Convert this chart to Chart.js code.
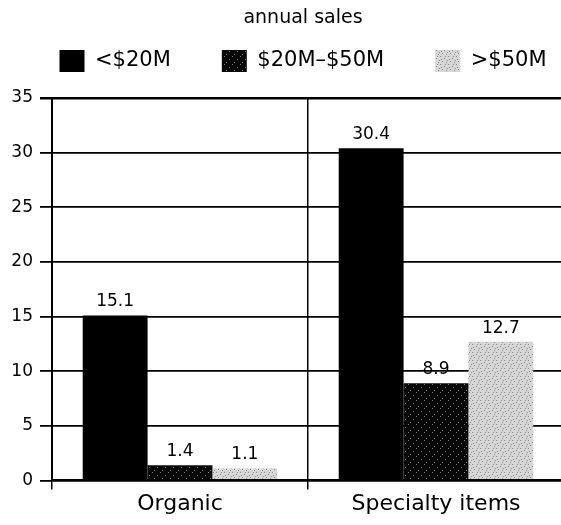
<!DOCTYPE html>
<html>
<head>
<meta charset="utf-8">
<script src="https://cdn.jsdelivr.net/npm/chart.js@4.4.1/dist/chart.umd.min.js"></script>
<style>
  html, body { margin: 0; padding: 0; background: #fff; overflow: hidden; }
  #wrap { width: 606px; height: 525px; }
</style>
</head>
<body>
<div id="wrap"><canvas id="salesChart"></canvas></div>
<script>
// datos
var categorias = ['Organic', 'Specialty items'];
var series = ['<$20M', '$20M\u2013$50M', '>$50M'];
var ventasMenos20 = [15.1, 30.4];
var ventas20a50 = [1.4, 8.9];
var ventasMas50 = [1.1, 12.7];
var ticksY = [0, 5, 10, 15, 20, 25, 30, 35];

var fuente = "'DejaVu Sans', sans-serif";

// patrón punteado para las barras
function crearPatron(fondo, punto, puntos) {
    var c = document.createElement('canvas');
    c.width = 8; c.height = 8;
    var g = c.getContext('2d');
    g.fillStyle = fondo;
    g.fillRect(0, 0, 8, 8);
    g.fillStyle = punto;
    puntos.forEach(function (p) { g.fillRect(p[0], p[1], 1, 1); });
    return g.createPattern(c, 'repeat');
}

var patronMedio = crearPatron('#080808', '#7a7a7a', [[0, 0], [5, 3], [2, 6]]);
var patronClaro = crearPatron('#d6d6d6', '#8e8e8e', [[0, 0], [4, 2], [2, 5], [6, 6], [1, 3], [5, 0], [7, 4]]);

// etiquetas de valor encima de cada barra
var etiquetasValor = {
    id: 'etiquetasValor',
    afterDatasetsDraw: function (chart) {
        var ctx = chart.ctx;
        ctx.save();
        ctx.font = '17px ' + fuente;
        ctx.fillStyle = '#000';
        ctx.textAlign = 'center';
        ctx.textBaseline = 'bottom';
        chart.data.datasets.forEach(function (ds, i) {
            chart.getDatasetMeta(i).data.forEach(function (bar, j) {
                ctx.fillText(ds.data[j].toFixed(1), bar.x, bar.y - 5);
            });
        });
        ctx.restore();
    }
};

var ctx = document.getElementById('salesChart').getContext('2d');
new Chart(ctx, {
    type: 'bar',
    data: {
        labels: categorias,
        datasets: [
            { label: series[0], data: ventasMenos20, backgroundColor: '#000' },
            { label: series[1], data: ventas20a50, backgroundColor: patronMedio },
            { label: series[2], data: ventasMas50, backgroundColor: patronClaro }
        ]
    },
    options: {
        responsive: true,
        maintainAspectRatio: false,
        animation: false,
        layout: { padding: 0 },
        datasets: { bar: { categoryPercentage: 0.76, barPercentage: 1 } },
        plugins: {
            title: {
                display: true,
                text: 'annual sales',
                color: '#000',
                font: { family: fuente, size: 19, weight: 'normal' },
                padding: { top: 6.6, bottom: -30.4 }
            },
            legend: {
                labels: {
                    color: '#000',
                    font: { family: fuente, size: 21 },
                    boxWidth: 25,
                    boxHeight: 22,
                    padding: 51
                }
            },
            tooltip: { enabled: false }
        },
        scales: {
            x: {
                grid: { color: '#000', lineWidth: 1.5, offset: true, tickLength: 10 },
                border: { color: '#000', width: 2, z: 1 },
                ticks: { color: '#000', font: { family: fuente, size: 22 }, padding: 2 },
                afterFit: function (s) { s.height = 44.5; }
            },
            y: {
                min: 0,
                max: 35,
                afterBuildTicks: function (axis) {
                    axis.ticks = ticksY.map(function (v) { return { value: v }; });
                },
                grid: {
                    color: '#000',
                    tickLength: 12,
                    lineWidth: function (c) { return c.tick && c.tick.value === 35 ? 2.5 : 1.8; }
                },
                border: { color: '#000', width: 2 },
                ticks: { color: '#000', font: { family: fuente, size: 17 }, padding: 7 },
                afterFit: function (s) { s.width = 52; }
            },
            // ejes vacíos solo para dejar los márgenes de la figura original
            arriba: {
                type: 'category',
                position: 'top',
                grid: { display: false, drawTicks: false },
                border: { display: false },
                ticks: { display: false },
                afterFit: function (s) { s.height = 15; }
            },
            derecho: {
                type: 'linear',
                position: 'right',
                grid: { display: false, drawTicks: false },
                border: { display: false },
                ticks: { display: false },
                afterFit: function (s) { s.width = 42; }
            }
        }
    },
    plugins: [etiquetasValor]
});
</script>
</body>
</html>
